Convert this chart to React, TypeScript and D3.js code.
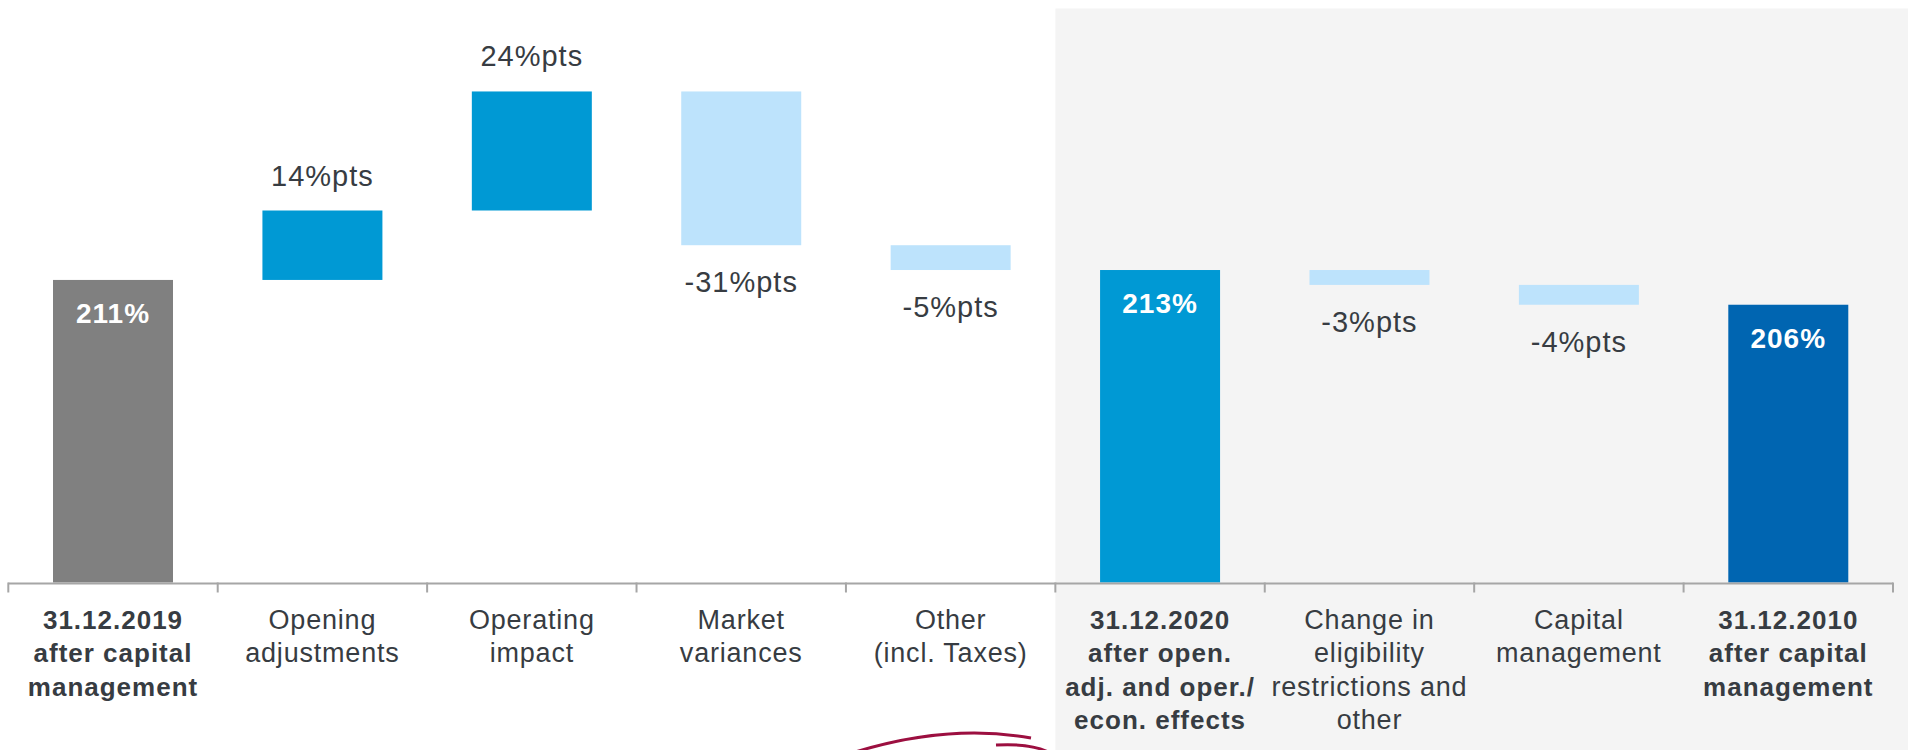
import React from "react";
import * as d3 from "d3";

const categories: string[][] = [
  ["31.12.2019", "after capital", "management"],
  ["Opening", "adjustments"],
  ["Operating", "impact"],
  ["Market", "variances"],
  ["Other", "(incl. Taxes)"],
  ["31.12.2020", "after open.", "adj. and oper./", "econ. effects"],
  ["Change in", "eligibility", "restrictions and", "other"],
  ["Capital", "management"],
  ["31.12.2010", "after capital", "management"],
];
const kinds = ["total", "delta", "delta", "delta", "delta", "total", "delta", "delta", "total"];
const values = [211, 14, 24, -31, -5, 213, -3, -4, 206];
const valueLabels = ["211%", "14%pts", "24%pts", "-31%pts", "-5%pts", "213%", "-3%pts", "-4%pts", "206%"];
const totalColors = ["#808080", "#0099d4", "#0065b1"];
const yDomain = [150, 250];

const W = 1908;
const H = 750;
const FONT = "'Liberation Sans', Arial, sans-serif";
const TEXT = "#373c42";

export default function App() {
  const x = d3
    .scaleBand<number>()
    .domain(values.map((_, i) => i))
    .range([8.3, 1893])
    .padding(0);
  const y = d3.scaleLinear().domain(yDomain).range([582.5, 86.5]);
  const step = x.step();
  const barW = step * 0.573;

  let running = 0;
  let totalIdx = 0;
  const bars = values.map((v, i) => {
    let lo: number, hi: number, color: string;
    if (kinds[i] === "total") {
      lo = yDomain[0];
      hi = v;
      running = v;
      color = totalColors[totalIdx++];
    } else {
      const start = running;
      const end = running + v;
      lo = Math.min(start, end);
      hi = Math.max(start, end);
      running = end;
      color = v >= 0 ? "#0099d4" : "#bde3fc";
    }
    return { i, v, lo, hi, color, kind: kinds[i] };
  });

  const baseY = y(yDomain[0]);
  const panelX = x(5)!;

  return (
    <svg
      width={W}
      height={H}
      style={{ position: "absolute", left: 0, top: 0, background: "#fff" }}
      fontFamily={FONT}
    >
      <rect x={panelX} y={8.5} width={W - panelX} height={H - 8.5} fill="#f4f4f4" />

      {bars.map((b) => {
        const cx = x(b.i)! + step / 2;
        const top = y(b.hi);
        const bottom = y(b.lo);
        return (
          <g key={b.i}>
            <rect x={cx - barW / 2} y={top} width={barW} height={bottom - top} fill={b.color} />
            {b.kind === "total" ? (
              <text
                x={cx}
                y={top + 43}
                textAnchor="middle"
                fill="#fff"
                fontWeight="bold"
                fontSize={28}
                letterSpacing={1}
              >
                {valueLabels[b.i]}
              </text>
            ) : b.v >= 0 ? (
              <text x={cx} y={top - 25} textAnchor="middle" fill={TEXT} fontSize={29} letterSpacing={1}>
                {valueLabels[b.i]}
              </text>
            ) : (
              <text x={cx} y={bottom + 47} textAnchor="middle" fill={TEXT} fontSize={29} letterSpacing={1}>
                {valueLabels[b.i]}
              </text>
            )}
          </g>
        );
      })}

      <line x1={8.3} x2={1893} y1={baseY + 1} y2={baseY + 1} stroke="#a6a6a6" strokeWidth={2} />
      {d3.range(values.length + 1).map((k) => {
        const tx = 8.3 + k * step;
        return <line key={k} x1={tx} x2={tx} y1={baseY} y2={baseY + 10} stroke="#a6a6a6" strokeWidth={2} />;
      })}

      {categories.map((lines, i) => {
        const cx = x(i)! + step / 2;
        const bold = kinds[i] === "total";
        return (
          <text
            key={i}
            textAnchor="middle"
            fill={TEXT}
            fontSize={bold ? 26 : 27}
            letterSpacing={bold ? 1 : 0.8}
            fontWeight={bold ? "bold" : "normal"}
          >
            {lines.map((ln, j) => (
              <tspan key={j} x={cx} y={628.5 + j * 33.5}>
                {ln}
              </tspan>
            ))}
          </text>
        );
      })}

      <path d="M 852 753 Q 948 723 1031 738" fill="none" stroke="#9c0f40" strokeWidth={3} />
      <path d="M 996 745 Q 1032 743 1050 753" fill="none" stroke="#9c0f40" strokeWidth={3} />
    </svg>
  );
}
